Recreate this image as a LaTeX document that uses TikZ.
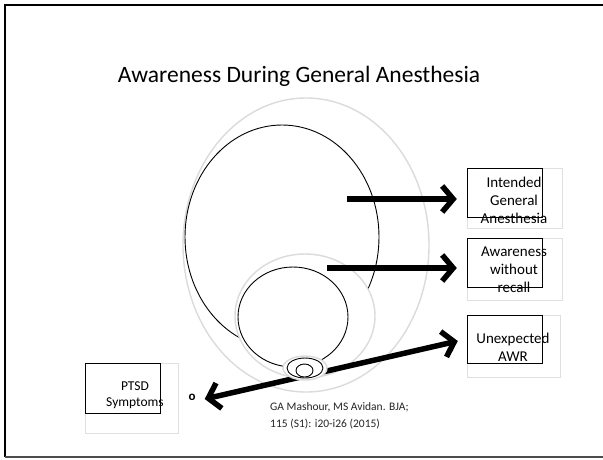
\documentclass[tikz,border=0pt]{standalone}
\usepackage{fontspec}
\setmainfont{Carlito}
\usetikzlibrary{shapes.geometric,arrows.meta,shadows}
\begin{document}
\begin{tikzpicture}[x=1pt,y=-1pt,
  halo/.style={ellipse, draw=gray!28, line width=1.4pt, fill=white, inner sep=0pt},
  ring/.style={ellipse, draw=black, line width=0.9pt, inner sep=0pt},
  bigarrow/.style={line width=5.5pt, -{Straight Barb[length=11pt,width=26pt]}},
  card/.style={draw=gray!25, fill=white, inner sep=0pt, drop shadow={opacity=0.35, shadow xshift=1.2pt, shadow yshift=-1.2pt}},
  frameline/.style={draw=black, line width=1.2pt},
  cardtext/.style={align=center, font=\fontsize{15}{18}\selectfont, inner sep=0pt},
]
\useasboundingbox (0,0) rectangle (603,459);
\fill[white] (0,0) rectangle (603,459);
% slide frame
\draw[line width=2pt] (610,5) -- (5,5) -- (5,457);
\draw[line width=1.2pt, black!70] (5,457) -- (610,457);

\node[font=\fontsize{23.5}{28}\selectfont, inner sep=0pt] (title) at (299,76) {Awareness During General Anesthesia};

% nested ellipses
\node[halo, minimum width=246pt, minimum height=294pt] (outer) at (306,245) {};
\node[ring, minimum width=194pt, minimum height=224pt] (gen) at (282,237) {};
\node[halo, minimum width=140pt, minimum height=124pt] (mid) at (305,316) {};
\node[ring, minimum width=110pt, minimum height=100pt] (wor) at (293,317) {};

% cards
\node[card, minimum width=95pt, minimum height=60pt] (c1) at (514.5,198) {};
\node[frameline, anchor=north west, inner sep=0pt, minimum width=75pt, minimum height=49pt] (f1) at (c1.north west) {};
\node[cardtext] (l1) at (514,200) {Intended\\General\\Anesthesia};

\node[card, minimum width=95pt, minimum height=62pt] (c2) at (514.5,269) {};
\node[frameline, anchor=north west, inner sep=0pt, minimum width=75pt, minimum height=49pt] (f2) at (c2.north west) {};
\node[cardtext] (l2) at (514,270) {Awareness\\without\\recall};

\node[card, minimum width=93pt, minimum height=62pt] (c3) at (513.5,346) {};
\node[frameline, anchor=north west, inner sep=0pt, minimum width=75pt, minimum height=48pt] (f3) at (c3.north west) {};
\node[cardtext] (l3) at (513,347) {Unexpected\\AWR};

\node[card, minimum width=93pt, minimum height=70pt] (c4) at (131.5,398) {};
\node[frameline, anchor=north west, inner sep=0pt, minimum width=75pt, minimum height=50pt] (f4) at (c4.north west) {};
\node[cardtext, font=\fontsize{13.5}{16}\selectfont] (l4) at (135,395) {PTSD\\Symptoms};

\node[font=\fontsize{13}{15}\selectfont\bfseries, inner sep=0pt] (o) at (192,397) {o};

% arrows
\coordinate (s1) at (347,199);
\coordinate (t1) at ([xshift=-10pt]c1.west);
\draw[bigarrow] (s1) -- (s1 -| t1);
\coordinate (s2) at (327,268);
\coordinate (t2) at ([xshift=-10pt]c2.west);
\draw[bigarrow] (s2) -- (s2 -| t2);
\coordinate (hub) at (305,376);
\draw[bigarrow] (hub) -- ([shift={(-9pt,5pt)}]c3.west);
\draw[bigarrow] (hub) -- ([shift={(9pt,-2pt)}]o.east);

% small ellipses
\node[halo, minimum width=44pt, minimum height=24pt] (smallhalo) at (305,368) {};
\node[ring, minimum width=36pt, minimum height=20pt] (awr) at (305,368) {};
\node[ring, fill=white, minimum width=17pt, minimum height=13pt] (ptsd) at (304.5,370.5) {};

\node[anchor=west, align=left, inner sep=0pt, text=black!85, font=\fontsize{11.5}{17}\selectfont] (cite) at (270,415.5) {GA Mashour, MS Avidan. BJA;\\115 (S1): i20-i26 (2015)};
\end{tikzpicture}
\end{document}
